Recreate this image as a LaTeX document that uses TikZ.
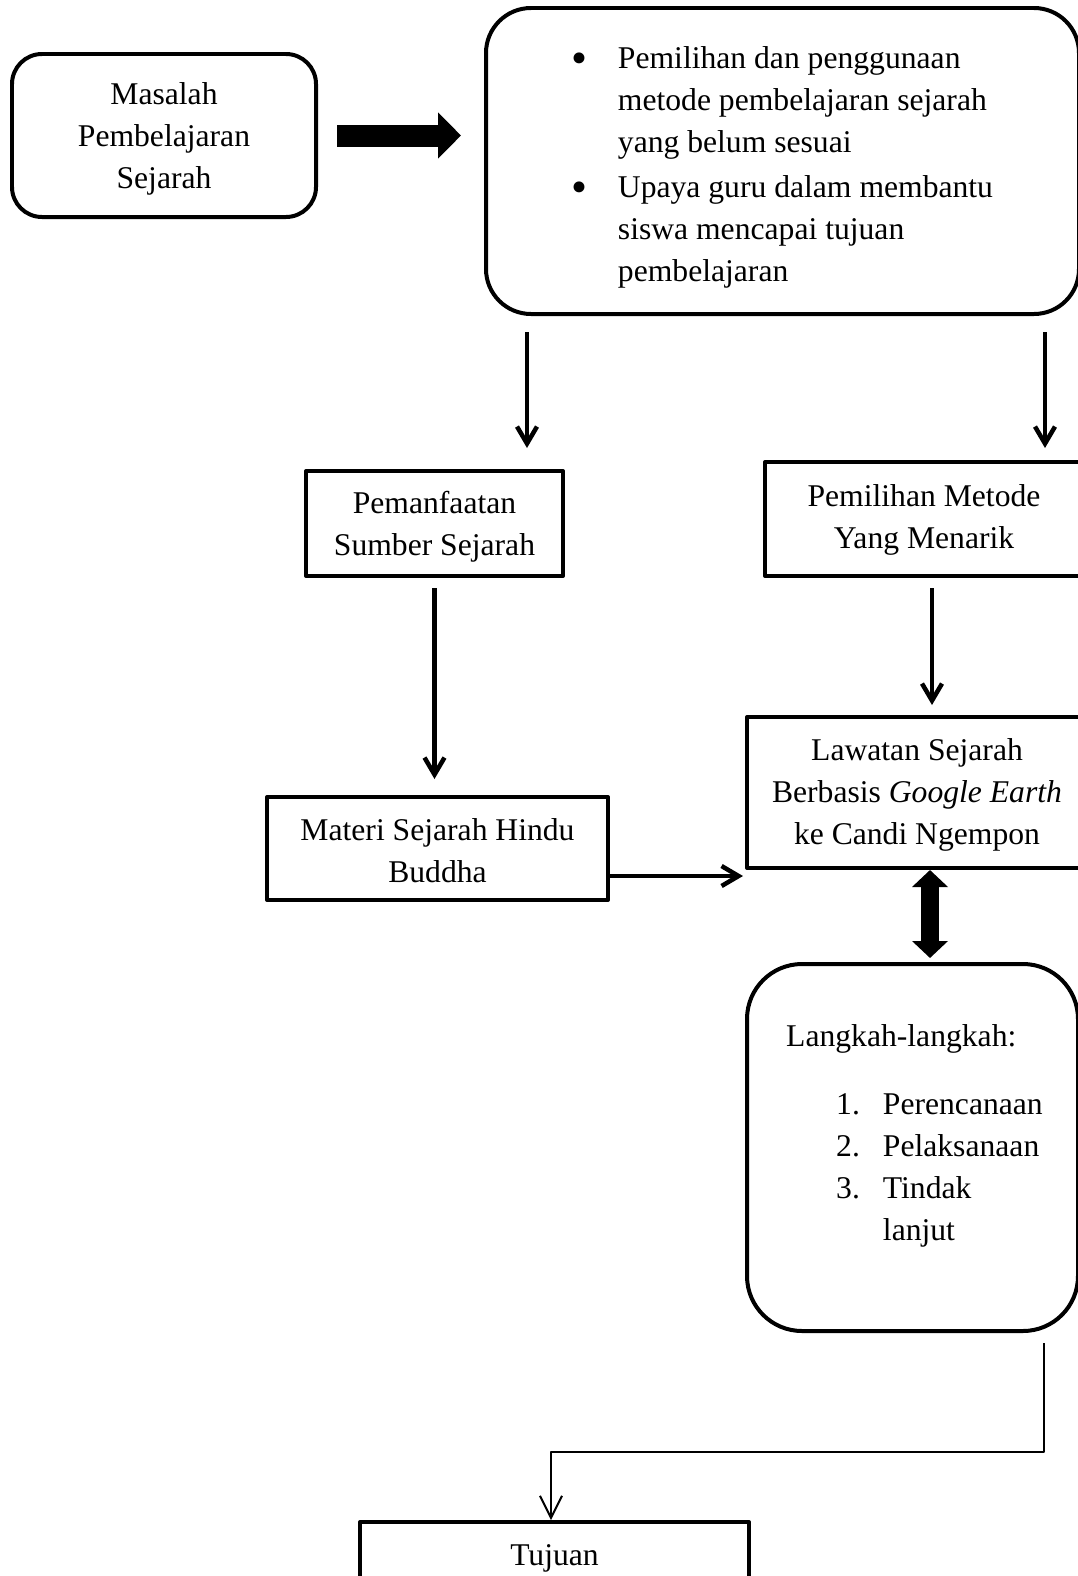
\documentclass[tikz,border=0pt]{standalone}
\usepackage{fontspec}
\setmainfont{Liberation Serif}
\usetikzlibrary{arrows.meta}
\newcommand{\boxlines}[2][0.05cm]{\begin{tabular}{@{}c@{}}\rule{0pt}{\dimexpr 8.37pt+#1\relax}#2\end{tabular}}
\newcommand{\dotitem}{\raisebox{-0.05cm}{\fontsize{13}{12}\selectfont\textbullet}}

\begin{document}
\begin{tikzpicture}[font={\fontsize{9}{11.95}\selectfont}, line join=round,
	box/.style={draw, line width=0.04cm, inner sep=0pt},
	roundbox/.style={box, rounded corners=#1},
	arr/.style={line width=0.045cm, -{Straight Barb[length=0.17cm,width=0.2cm]}},
	thinarr/.style={line width=0.02cm, -{Straight Barb[length=0.22cm,width=0.22cm]}},
	fatarr/.style={line width=0.22cm, -{Triangle[length=0.23cm,width=0.45cm]}},
	dblarr/.style={line width=0.18cm, {Triangle[length=0.17cm,width=0.35cm]}-{Triangle[length=0.17cm,width=0.35cm]}}]
			\clip (0,0) rectangle (10.78,-15.76);
			% boxes
			\node[roundbox=0.3cm, minimum width=3.04cm, minimum height=1.63cm] (masalah) at (1.64,-1.355) {\boxlines{Masalah\\Pembelajaran\\Sejarah}};
			\node[roundbox=0.45cm, minimum width=5.93cm, minimum height=3.06cm] (kendala) at (7.825,-1.61) {\begin{tabular}{@{}p{0.46cm}@{}l@{}}
				\rule{0pt}{\dimexpr 8.37pt+0.12cm\relax}\dotitem & Pemilihan dan penggunaan\\
				& metode pembelajaran sejarah\\
				& yang belum sesuai\\[0.03cm]
				\dotitem & Upaya guru dalam membantu\\
				& siswa mencapai tujuan\\
				& pembelajaran
			\end{tabular}};
			\node[box, minimum width=2.57cm, minimum height=1.05cm] (sumber) at (4.345,-5.235) {\boxlines[0.06cm]{Pemanfaatan\\Sumber Sejarah}};
			\node[box, minimum width=3.18cm, minimum height=1.14cm] (metode) at (9.24,-5.19) {\boxlines[0cm]{Pemilihan Metode\\Yang Menarik}};
			\node[box, minimum width=3.40cm, minimum height=1.51cm] (lawatan) at (9.17,-7.925) {\boxlines[0.04cm]{Lawatan Sejarah\\Berbasis \textit{Google Earth}\\ke Candi Ngempon}};
			\node[box, minimum width=3.41cm, minimum height=1.03cm] (materi) at (4.375,-8.485) {\boxlines[0.10cm]{Materi Sejarah Hindu\\Buddha}};
			\node[roundbox=0.55cm, minimum width=3.31cm, minimum height=3.67cm] (langkah) at (9.125,-11.475) {\begin{tabular}{@{\hspace{0.04cm}}p{0.50cm}@{}r@{\hspace{0.23cm}}l@{}}
				\multicolumn{3}{@{\hspace{0.04cm}}l@{}}{Langkah-langkah:}\\[0.26cm]
				& 1. & Perencanaan\\
				& 2. & Pelaksanaan\\
				& 3. & Tindak\\
				& & lanjut\\[0.24cm]
			\end{tabular}};
			\node[box, minimum width=3.89cm, text height=0.21cm, text depth=1cm, inner ysep=0.22cm, anchor=north] (tujuan) at (5.545,-15.20) {Tujuan};
			% connectors
			\draw[fatarr, shorten <=0.19cm, shorten >=0.23cm] (masalah.east) -- (masalah.east -| kendala.west);
			\coordinate (k1) at ([xshift=0.43cm]kendala.south west);
			\coordinate (k2) at ([xshift=-0.36cm]kendala.south east);
			\draw[arr, shorten <=0.16cm, shorten >=0.21cm] (k1) -- (k1 |- sumber.north);
			\draw[arr, shorten <=0.16cm, shorten >=0.12cm] (k2) -- (k2 |- metode.north);
			\draw[arr, shorten <=0.10cm, shorten >=0.16cm] (sumber.south) -- (sumber.south |- materi.north);
			\coordinate (m1) at ([xshift=0.08cm]metode.south);
			\draw[arr, shorten <=0.10cm, shorten >=0.10cm] (m1) -- (m1 |- lawatan.north);
			\coordinate (h1) at ([yshift=-0.275cm]materi.east);
			\draw[arr, shorten >=0.02cm] (h1) -- (h1 -| lawatan.west);
			\coordinate (l1) at ([xshift=0.13cm]lawatan.south);
			\draw[dblarr, shorten >=0.04cm] (l1) -- (l1 |- langkah.north);
			\coordinate (l2) at ([shift={(-0.36cm,-0.10cm)}]langkah.south east);
			\coordinate (belok) at (5.51,-14.52);
			\draw[thinarr] (l2) |- (belok) -- (belok |- tujuan.north);
		\end{tikzpicture}
\end{document}
